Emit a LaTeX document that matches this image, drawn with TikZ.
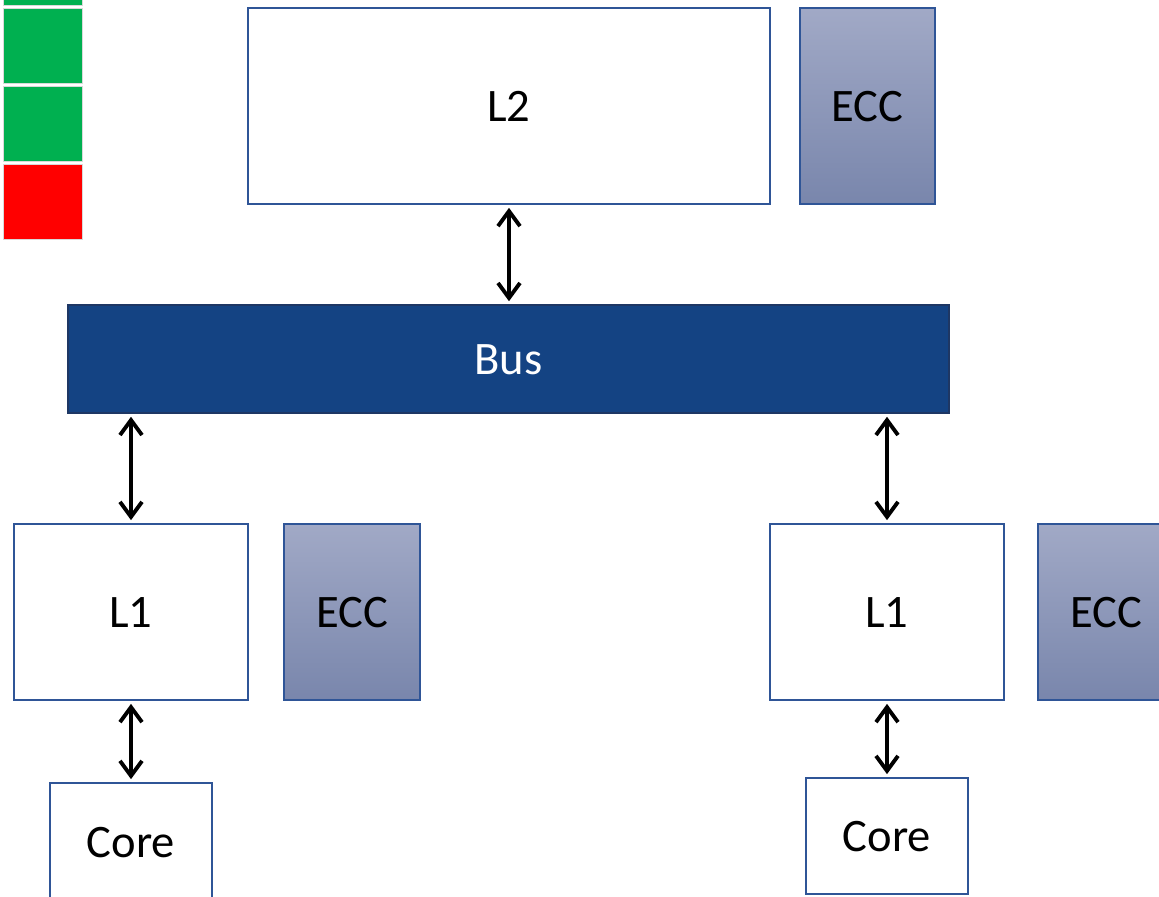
\documentclass[tikz,border=0pt]{standalone}
\usepackage{fontspec}
\setmainfont{Carlito}
\usetikzlibrary{arrows.meta}
\definecolor{boxblue}{RGB}{47,85,151}
\definecolor{busblue}{RGB}{20,67,131}
\definecolor{busedge}{RGB}{30,55,100}
\definecolor{ecctop}{RGB}{161,169,198}
\definecolor{eccbot}{RGB}{121,134,172}
\definecolor{okgreen}{RGB}{0,176,80}
\definecolor{badred}{RGB}{255,0,0}
\tikzset{
  lbl/.style={font=\fontsize{26.5}{31}\selectfont, text depth=0pt, text height=0.62cm},
  cache/.style={draw=boxblue, line width=1.4pt, fill=white, inner sep=0pt, lbl},
  ecc/.style={draw=boxblue, line width=1.1pt, top color=ecctop, bottom color=eccbot, inner sep=0pt, lbl},
  bus/.style={draw=busedge, line width=1.3pt, fill=busblue, text=white, inner sep=0pt, lbl},
  flag/.style={draw=black!15, line width=0.7pt, inner sep=0pt, minimum width=1.58cm, minimum height=1.5cm},
  barb/.tip={Straight Barb[length=0.3cm,width=0.44cm,line width=2.2pt]},
  link/.style={draw, line width=2.2pt, barb-barb, shorten <=1.5pt, shorten >=1.5pt}
}
\begin{document}
\begin{tikzpicture}
\useasboundingbox (0,0) rectangle (23.18,-17.92);
\clip (0,0) rectangle (23.18,-17.92);
% status squares
\node[flag, fill=okgreen] (f0) at (0.86,0.64) {};
\node[flag, fill=okgreen] (f1) at (0.86,-0.92) {};
\node[flag, fill=okgreen] (f2) at (0.86,-2.48) {};
\node[flag, fill=badred] (f3) at (0.86,-4.04) {};
% L2 and ECC
\node[cache, minimum width=10.44cm, minimum height=3.92cm] (L2) at (10.18,-2.12) {L2};
\node[ecc, minimum width=2.7cm, minimum height=3.92cm] (E0) at (17.35,-2.12) {ECC};
% Bus
\node[bus, minimum width=17.62cm, minimum height=2.16cm] (Bus) at (10.17,-7.18) {Bus};
% L1 left
\node[cache, minimum width=4.68cm, minimum height=3.52cm] (L1a) at (2.62,-12.24) {L1};
\node[ecc, minimum width=2.72cm, minimum height=3.52cm] (E1) at (7.04,-12.24) {ECC};
% L1 right
\node[cache, minimum width=4.68cm, minimum height=3.52cm] (L1b) at (17.74,-12.24) {L1};
\node[ecc, minimum width=2.72cm, minimum height=3.52cm] (E2) at (22.12,-12.24) {ECC};
% Cores
\node[cache, minimum width=3.24cm, minimum height=2.36cm] (Ca) at (2.62,-16.84) {Core};
\node[cache, minimum width=3.24cm, minimum height=2.32cm] (Cb) at (17.74,-16.72) {Core};
% connectors
\path[link] (L2.south) -- (L2.south |- Bus.north);
\path[link] (L1a.north |- Bus.south) -- (L1a.north);
\path[link] (L1b.north |- Bus.south) -- (L1b.north);
\path[link] (L1a.south) -- (Ca.north);
\path[link] (L1b.south) -- (Cb.north);
\end{tikzpicture}
\end{document}
